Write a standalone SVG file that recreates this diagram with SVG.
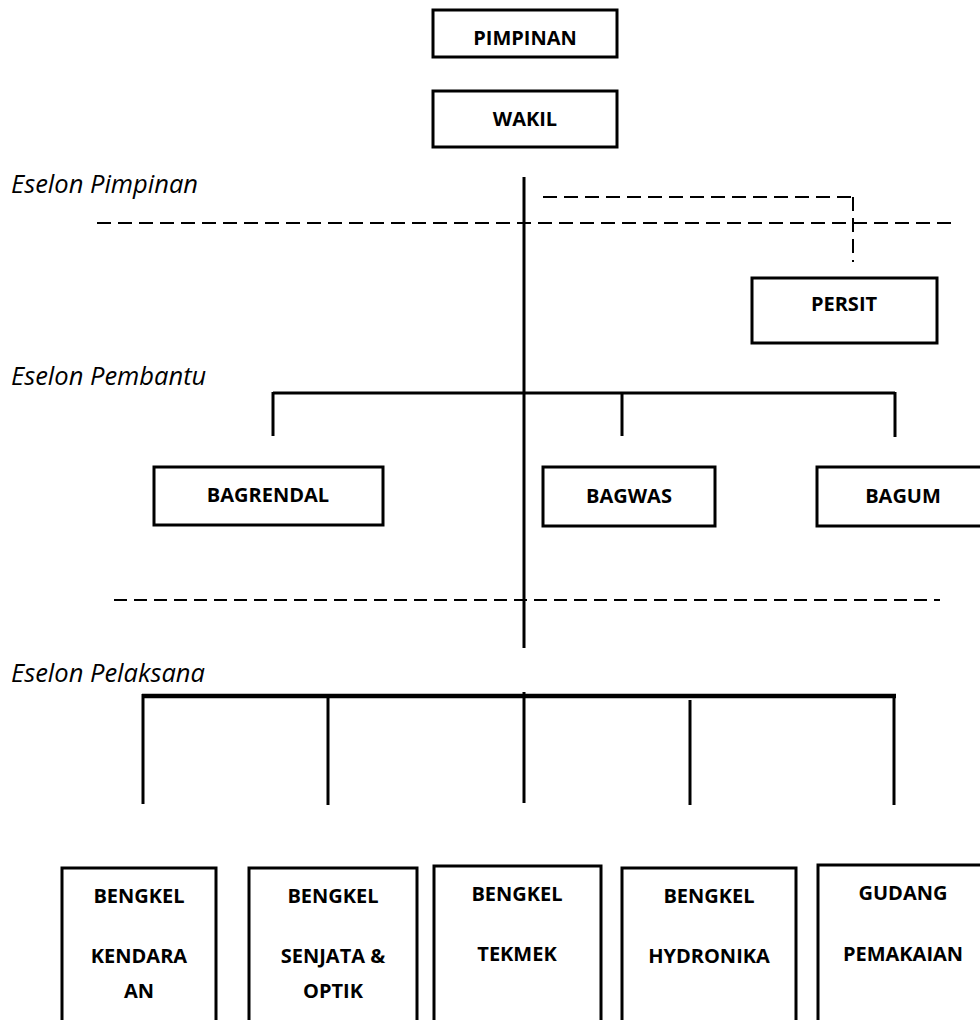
<svg xmlns="http://www.w3.org/2000/svg" width="980" height="1020" viewBox="0 0 980 1020">
<style>
.box{fill:#fff;stroke:#000;stroke-width:3}
.lbl{font-family:"Open Sans","DejaVu Sans",sans-serif;font-weight:bold;font-size:20px;fill:#000;text-anchor:middle}
.ital{font-family:"Open Sans","DejaVu Sans",sans-serif;font-style:italic;font-size:25.5px;fill:#000}
.ln{stroke:#000;stroke-width:3;fill:none}
.dash{stroke:#000;stroke-width:2;fill:none;stroke-dasharray:14 7}
</style>
<rect width="980" height="1020" fill="#fff"/>
<g id="labels">
<text class="ital" x="11" y="193">Eselon Pimpinan</text>
<text class="ital" x="11" y="385">Eselon Pembantu</text>
<text class="ital" x="11" y="682">Eselon Pelaksana</text>
</g>
<g id="connectors">
<line class="dash" x1="97" y1="223" x2="952" y2="223"/>
<line class="dash" x1="543" y1="197" x2="854" y2="197"/>
<line class="dash" x1="853" y1="197" x2="853" y2="262"/>
<line class="dash" x1="114" y1="600" x2="940" y2="600" style="stroke-dasharray:13 7"/>
<line class="ln" x1="524" y1="177" x2="524" y2="648"/>
<line class="ln" x1="273" y1="393" x2="895" y2="393"/>
<line class="ln" x1="273" y1="392" x2="273" y2="436"/>
<line class="ln" x1="622" y1="392" x2="622" y2="436"/>
<line class="ln" x1="895" y1="392" x2="895" y2="437"/>
<line class="ln" x1="142" y1="696" x2="896" y2="696" style="stroke-width:4.5"/>
<line class="ln" x1="143" y1="694" x2="143" y2="804"/>
<line class="ln" x1="328" y1="696" x2="328" y2="805"/>
<line class="ln" x1="524" y1="692" x2="524" y2="803"/>
<line class="ln" x1="690" y1="700" x2="690" y2="805"/>
<line class="ln" x1="894" y1="696" x2="894" y2="805"/>
</g>
<g id="pimpinan"><rect class="box" x="433" y="10" width="184" height="47"/><text class="lbl" x="525" y="45">PIMPINAN</text></g>
<g id="wakil"><rect class="box" x="433" y="91" width="184" height="56"/><text class="lbl" x="525" y="126">WAKIL</text></g>
<g id="persit"><rect class="box" x="752" y="278" width="185" height="65"/><text class="lbl" x="844" y="311">PERSIT</text></g>
<g id="bagrendal"><rect class="box" x="154" y="467" width="229" height="58"/><text class="lbl" x="268" y="502">BAGRENDAL</text></g>
<g id="bagwas"><rect class="box" x="543" y="467" width="172" height="59"/><text class="lbl" x="629" y="503">BAGWAS</text></g>
<g id="bagum"><rect class="box" x="817" y="467" width="172" height="59"/><text class="lbl" x="903" y="503">BAGUM</text></g>
<g id="bengkel-kendaraan"><path class="box" d="M62,1022 V868 H216 V1022"/><text class="lbl" x="139" y="903">BENGKEL</text><text class="lbl" x="139" y="963">KENDARA</text><text class="lbl" x="139" y="998">AN</text></g>
<g id="bengkel-senjata"><path class="box" d="M249,1022 V868 H417 V1022"/><text class="lbl" x="333" y="903">BENGKEL</text><text class="lbl" x="333" y="963">SENJATA &amp;</text><text class="lbl" x="333" y="998">OPTIK</text></g>
<g id="bengkel-tekmek"><path class="box" d="M434,1022 V866 H601 V1022"/><text class="lbl" x="517" y="901">BENGKEL</text><text class="lbl" x="517" y="961">TEKMEK</text></g>
<g id="bengkel-hydronika"><path class="box" d="M622,1022 V868 H796 V1022"/><text class="lbl" x="709" y="903">BENGKEL</text><text class="lbl" x="709" y="963">HYDRONIKA</text></g>
<g id="gudang"><path class="box" d="M818,1022 V865 H990 V1022"/><text class="lbl" x="903" y="900">GUDANG</text><text class="lbl" x="903" y="961">PEMAKAIAN</text></g>
</svg>
